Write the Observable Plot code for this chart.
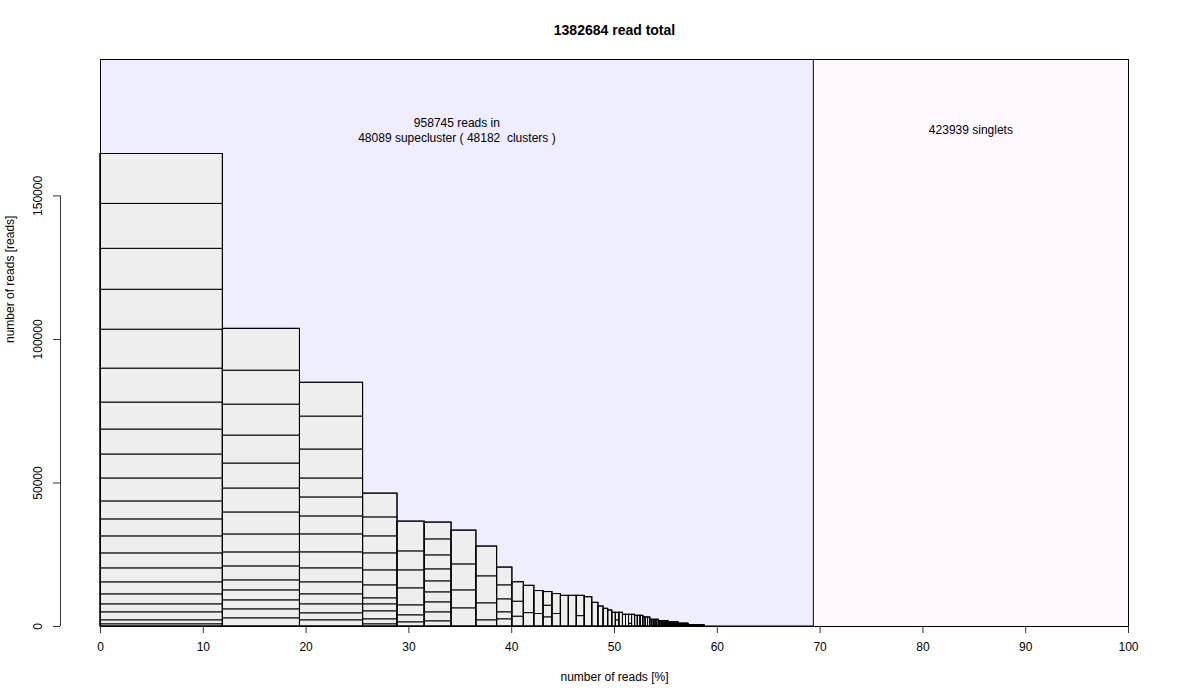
<!DOCTYPE html>
<html>
<head>
<meta charset="utf-8">
<script src="https://cdn.jsdelivr.net/npm/d3@7"></script>
<script src="https://cdn.jsdelivr.net/npm/@observablehq/plot@0.6"></script>
<style>
  body { margin: 0; background: #ffffff; }
  svg text { white-space: pre; }
</style>
</head>
<body>
<div id="chart"></div>
<script>
// ---- summary numbers ----
const totalReads = 1382684;
const clusteredReads = 958745;
const superclusterCount = 48089;
const clusterCount = 48182;
const singletReads = 423939;

// ---- cluster sizes (reads) of the large superclusters, top of each bar first ----
const sc01 = [17400, 15660, 14270, 13920, 13570, 11830, 9400, 8700, 8350, 8000, 6260, 5920, 5920, 5220, 4870, 4180, 3480, 2780, 2780, 1390, 700];
const sc02 = [14620, 11830, 10790, 9740, 8700, 8350, 7660, 6260, 4870, 4870, 3480, 3480, 3130, 3130, 2780];
const sc03 = [11830, 11480, 10090, 6610, 6610, 6260, 6260, 5570, 4870, 4180, 3480, 3130, 2440, 2090];
const sc04 = [8350, 6610, 5920, 5920, 5220, 4520, 2090, 2440, 2780, 1740, 700];
const sc05 = [10440, 6610, 6260, 5920, 3480, 2440, 1390];
const sc06 = [5920, 5570, 4870, 4180, 3830, 3480, 3480, 3130, 1740];
const sc07 = [11830, 9050, 6260, 6260];
const sc08 = [10440, 9400, 5920, 2090];
const sc09 = [6260, 4870, 4520, 2440, 2440];
const sc10 = [6820, 5220, 3380];
const sc11 = [9540, 4630];
const sc12 = [8000, 4350];
const sc13 = [4800, 4070, 3130];
const sc14 = [6960, 4350];
const sc15 = [10680];
const sc16 = [10680];
const sc17 = [7100, 3580];
const sc18 = [10200];
const sc19 = [8250];
const sc20 = [6960];
const sc21 = [6160];
const sc22 = [5570];
const sc23 = [4770];
const sc24 = [2680, 2090];
const sc25 = [4770];
const sc26 = [4070];
const sc27 = [4070];
const sc28 = [3150, 920];
const sc29 = [4070];
const superclusters = [sc01, sc02, sc03, sc04, sc05, sc06, sc07, sc08, sc09, sc10,
  sc11, sc12, sc13, sc14, sc15, sc16, sc17, sc18, sc19, sc20,
  sc21, sc22, sc23, sc24, sc25, sc26, sc27, sc28, sc29];

// ---- smaller single-cluster superclusters: size (reads) and how many of them ----
const tailSizes  = [3720, 3130, 2330, 1840, 1390, 940, 450, 240];
const tailCounts = [3, 3, 5, 7, 10, 14, 38, 20];

// ---- axis ticks ----
const xTicks = [0, 10, 20, 30, 40, 50, 60, 70, 80, 90, 100];
const yTicks = [0, 50000, 100000, 150000];

// ---- build the geometry tables from the data ----
const scList = superclusters.slice();
tailSizes.forEach((s, i) => { for (let k = 0; k < tailCounts[i]; k++) scList.push([s]); });

const pct = r => r / totalReads * 100;
let cum = 0;
const bars = [], cells = [];
for (const clusters of scList) {
  const sum = d3.sum(clusters);
  const x1 = pct(cum), x2 = pct(cum + sum);
  bars.push({x1, x2, y1: 0, y2: sum});
  let top = sum;
  for (const c of clusters) { cells.push({x1, x2, y1: top - c, y2: top}); top -= c; }
  cum += sum;
}
// all the remaining (tiny) superclusters, drawn as one strip
const restCount = superclusterCount - scList.length;
const rest = [{x1: pct(cum), x2: pct(clusteredReads), y1: 0, y2: (clusteredReads - cum) / restCount}];

const maxSC = d3.max(bars, d => d.y2);
const yMax = maxSC * 1.2;
const clusteredPct = pct(clusteredReads);

const regions = [
  {x1: 0, x2: clusteredPct, y1: 0, y2: yMax, fill: "#EEEEFF"},
  {x1: clusteredPct, x2: 100, y1: 0, y2: yMax, fill: "#FFF8FF"}
];
const labels = [
  {x: clusteredPct / 2, y: maxSC * 1.05, t: `${clusteredReads} reads in\n${superclusterCount} supecluster ( ${clusterCount}  clusters )`},
  {x: (clusteredPct + 100) / 2, y: maxSC * 1.05, t: `${singletReads} singlets`}
];

const chart = Plot.plot({
  width: 1200,
  height: 700,
  marginLeft: 100,
  marginRight: 72,
  marginTop: 59,
  marginBottom: 74,
  style: {fontFamily: "'Liberation Sans', Arial, Helvetica, sans-serif", fontSize: "12px", background: "#ffffff", color: "black"},
  x: {domain: [0, 100]},
  y: {domain: [0, yMax]},
  marks: [
    Plot.rect(regions, {x1: "x1", x2: "x2", y1: "y1", y2: "y2", fill: "fill"}),
    Plot.rect(cells, {x1: "x1", x2: "x2", y1: "y1", y2: "y2", fill: "#EEEEEE", stroke: "black", strokeWidth: 1}),
    Plot.rect(bars, {x1: "x1", x2: "x2", y1: "y1", y2: "y2", fill: "none", stroke: "black", strokeWidth: 1}),
    Plot.rect(rest, {x1: "x1", x2: "x2", y1: "y1", y2: "y2", fill: "none", stroke: "black", strokeWidth: 1}),
    Plot.ruleX([clusteredPct], {y1: 0, y2: yMax, stroke: "black", strokeWidth: 1}),
    Plot.frame({stroke: "black", strokeWidth: 1}),
    Plot.text(labels, {x: "x", y: "y", text: "t", fontSize: 12, lineHeight: 1.25, fill: "black", dy: -1}),
    // axes
    Plot.axisX({ticks: xTicks, tickSize: 7, tickPadding: 9, tickFormat: d => String(d), label: null, stroke: "#333"}),
    Plot.ruleX([{x: 0, y1: yTicks[0], y2: yTicks[yTicks.length - 1]}], {x: "x", y1: "y1", y2: "y2", dx: -40, stroke: "#333"}),
    Plot.axisY({ticks: yTicks, tickSize: 7, tickPadding: 12, tickRotate: -90, dx: -40, tickFormat: d => String(d), label: null, stroke: "#333"}),
    // titles
    Plot.text([`${totalReads} read total`], {frameAnchor: "top", dy: -34, fontWeight: "bold", fontSize: 14, fill: "black"}),
    Plot.text(["number of reads [%]"], {frameAnchor: "bottom", dy: 54, fontSize: 12, fill: "black"}),
    Plot.text(["number of reads [reads]"], {frameAnchor: "left", dx: -90, rotate: -90, fontSize: 12, fill: "black"})
  ]
});
document.getElementById("chart").appendChild(chart);
</script>
</body>
</html>
